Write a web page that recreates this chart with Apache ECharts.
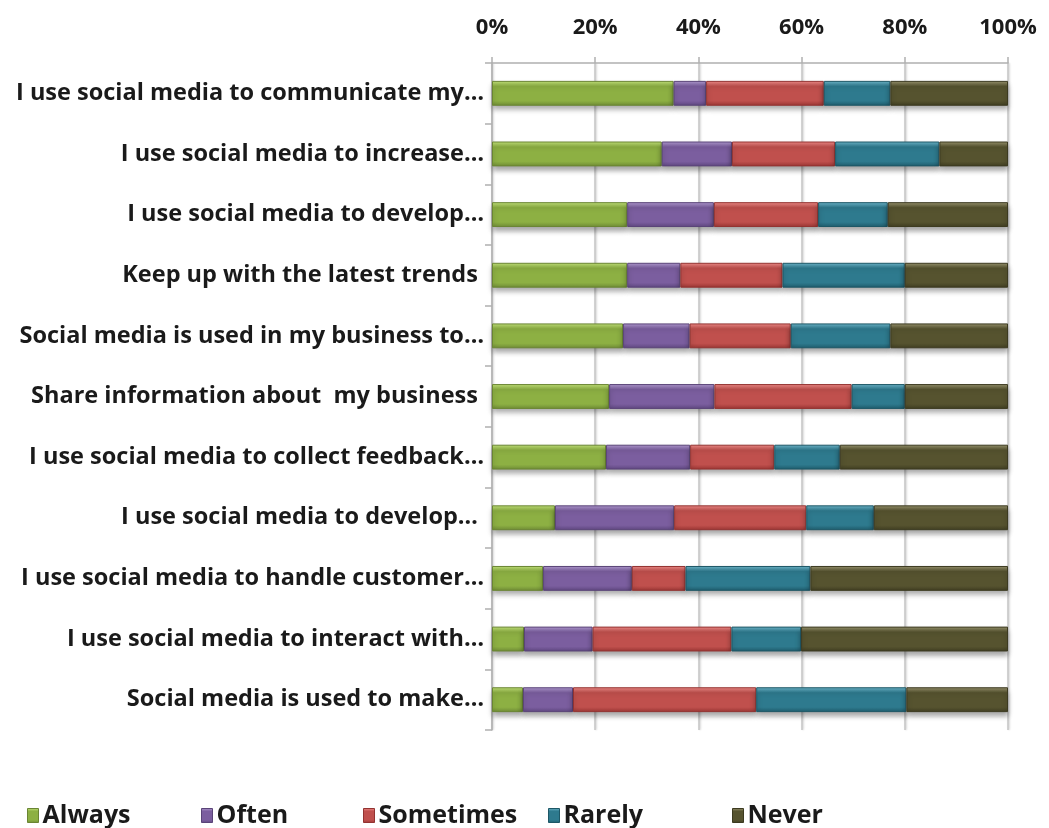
<!DOCTYPE html>
<html>
<head>
<meta charset="utf-8">
<script src="https://cdn.jsdelivr.net/npm/echarts@6/dist/echarts.min.js"></script>
<style>html,body{margin:0;padding:0;background:#fff;}#c{width:1049px;height:828px;}</style>
</head>
<body>
<div id="c"></div>
<script>
var categories = [
  "I use social media to communicate my\u2026",
  "I use social media to increase\u2026",
  "I use social media to develop\u2026",
  "Keep up with the latest trends ",
  "Social media is used in my business to\u2026",
  "Share information about  my business ",
  "I use social media to collect feedback\u2026",
  "I use social media to develop\u2026 ",
  "I use social media to handle customer\u2026",
  "I use social media to interact with\u2026",
  "Social media is used to make\u2026"
];
var seriesNames = ["Always", "Often", "Sometimes", "Rarely", "Never"];
var always    = [35.2, 32.9, 26.2, 26.2, 25.4, 22.7, 22.1, 12.2,  9.9,  6.2,  6.0];
var often     = [ 6.3, 13.6, 16.8, 10.3, 12.9, 20.4, 16.3, 23.1, 17.2, 13.3,  9.7];
var sometimes = [22.8, 20.0, 20.2, 19.8, 19.6, 26.6, 16.3, 25.6, 10.4, 26.9, 35.5];
var rarely    = [12.9, 20.2, 13.5, 23.7, 19.3, 10.3, 12.7, 13.1, 24.2, 13.5, 29.1];
var never     = [22.8, 13.3, 23.3, 20.0, 22.8, 20.0, 32.6, 26.0, 38.3, 40.1, 19.7];
var tickValues = [0, 20, 40, 60, 80, 100];

var values = [always, often, sometimes, rarely, never];
var palettes = [
  {top: '#c2e27a', mid: '#8db043', bot: '#6f8c36', border: '#6a8533'},
  {top: '#b19bd0', mid: '#7b5e9f', bot: '#5f4780', border: '#5a4478'},
  {top: '#ef8c89', mid: '#c0504d', bot: '#9a3634', border: '#933331'},
  {top: '#6fb7cb', mid: '#2e7a8e', bot: '#1f5c6c', border: '#1d5766'},
  {top: '#9a9570', mid: '#56532f', bot: '#403e22', border: '#3c3a20'}
];
function grad(p) {
  return new echarts.graphic.LinearGradient(0, 0, 0, 1, [
    {offset: 0, color: p.top},
    {offset: 0.22, color: p.mid},
    {offset: 0.8, color: p.mid},
    {offset: 1, color: p.bot}
  ]);
}
var fontFam = '"Open Sans", Lato, sans-serif';
var series = seriesNames.map(function (n, i) {
  return {
    name: n,
    type: 'bar',
    stack: 'total',
    barWidth: '41%',
    data: values[i],
    itemStyle: {
      color: grad(palettes[i]),
      borderColor: palettes[i].border,
      borderWidth: 1,
      shadowColor: 'rgba(0,0,0,0.35)',
      shadowBlur: 5,
      shadowOffsetY: 4
    }
  };
});
var legendLefts = [22, 196, 358, 543, 727];
var legends = seriesNames.map(function (n, i) {
  return {
    data: [{name: n, icon: 'rect', itemStyle: {color: grad(palettes[i]), borderColor: palettes[i].border, borderWidth: 1}}],
    left: legendLefts[i],
    top: 798,
    itemWidth: 11,
    itemHeight: 14,
    itemGap: 0,
    selectedMode: false,
    textStyle: {fontFamily: fontFam, fontWeight: 'bold', fontSize: 25, color: '#1a1a1a', padding: [0, 0, 0, -1]}
  };
});
var chart = echarts.init(document.getElementById('c'));
chart.setOption({
  animation: false,
  backgroundColor: '#fff',
  legend: legends,
  grid: {left: 492, right: 41, top: 63, bottom: 98, containLabel: false},
  xAxis: {
    type: 'value',
    position: 'top',
    min: 0, max: 100, interval: 20,
    axisLabel: {formatter: '{value}%', fontFamily: fontFam, fontWeight: 'bold', fontSize: 22, color: '#1a1a1a', margin: 24},
    axisLine: {show: true, lineStyle: {color: '#b0b0b0', width: 1.5}},
    axisTick: {show: true, length: 6, lineStyle: {color: '#b0b0b0', width: 1.5}},
    splitLine: {show: true, lineStyle: {color: '#c4c4c4', width: 1.5, shadowColor: 'rgba(0,0,0,0.2)', shadowBlur: 2, shadowOffsetX: 1}}
  },
  yAxis: {
    type: 'category',
    inverse: true,
    data: categories,
    axisLabel: {fontFamily: fontFam, fontWeight: 'bold', fontSize: 23.5, color: '#1a1a1a', margin: 8},
    axisLine: {show: true, lineStyle: {color: '#b0b0b0', width: 1.5}},
    axisTick: {show: true, length: 7, lineStyle: {color: '#b0b0b0', width: 1.5}}
  },
  series: series
});
</script>
</body>
</html>
